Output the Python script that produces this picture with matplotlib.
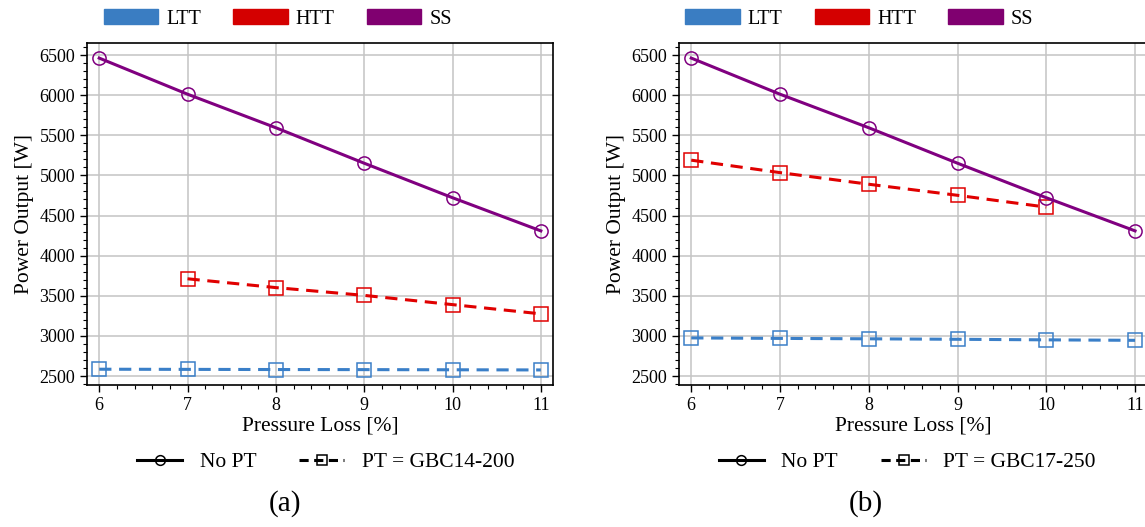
import matplotlib
matplotlib.use('Agg')
import matplotlib.pyplot as plt
import matplotlib.patches as mpatches
from matplotlib.lines import Line2D
from matplotlib.ticker import MultipleLocator

plt.rcParams['font.family'] = ['Liberation Serif', 'DejaVu Serif']
plt.rcParams['mathtext.fontset'] = 'stix'

# ── 数据 ──────────────────────────────────────────────────────────────────
pressure_loss = [6, 7, 8, 9, 10, 11]
ss_power = [6462, 6012, 5594, 5152, 4722, 4309]

# (a) PT = GBC14-200
htt_x_a = [7, 8, 9, 10, 11]
htt_power_a = [3712, 3602, 3505, 3390, 3275]
ltt_power_a = [2585, 2583, 2581, 2580, 2578, 2576]

# (b) PT = GBC17-250
htt_x_b = [6, 7, 8, 9, 10]
htt_power_b = [5190, 5035, 4890, 4752, 4605]
ltt_power_b = [2975, 2969, 2964, 2958, 2951, 2945]

panel_names = ['(a)', '(b)']
pt_labels = ['PT = GBC14-200', 'PT = GBC17-250']

# ── 样式 ──────────────────────────────────────────────────────────────────
C_LTT = '#3a7fc8'
C_HTT = '#e00000'
C_SS = '#800080'
P_LTT = '#3a7dc2'
P_HTT = '#d40000'
P_SS = '#800070'

fig = plt.figure(figsize=(11.45, 5.27), dpi=100)
ax_a = fig.add_axes([0.076, 0.2694, 0.407, 0.649])
ax_b = fig.add_axes([0.593, 0.2694, 0.409, 0.649])

panels = [
    (ax_a, htt_x_a, htt_power_a, ltt_power_a),
    (ax_b, htt_x_b, htt_power_b, ltt_power_b),
]

for ax, hx, hy, ly in panels:
    ax.plot(pressure_loss, ly, color=C_LTT, lw=2.2, ls=(0, (4, 2.5)),
            marker='s', ms=9.5, mfc='none', mec=C_LTT, mew=1.1, zorder=3)
    ax.plot(hx, hy, color=C_HTT, lw=2.2, ls=(0, (4, 2.5)),
            marker='s', ms=9.5, mfc='none', mec=C_HTT, mew=1.1, zorder=3)
    ax.plot(pressure_loss, ss_power, color=C_SS, lw=2.2, ls='-',
            marker='o', ms=9.5, mfc='none', mec=C_SS, mew=1.1, zorder=4)

    ax.set_xlim(5.862, 11.138)
    ax.set_ylim(2388, 6650)
    ax.set_xticks(pressure_loss)
    ax.set_yticks(range(2500, 6501, 500))
    ax.xaxis.set_minor_locator(MultipleLocator(0.2))
    ax.yaxis.set_minor_locator(MultipleLocator(100))
    ax.tick_params(which='major', labelsize=13, length=5, width=1)
    ax.tick_params(which='minor', length=3, width=0.8)
    ax.grid(True, which='major', color='#c4c4c4', lw=1.1)
    ax.set_axisbelow(True)
    for s in ax.spines.values():
        s.set_linewidth(1.2)
    ax.set_xlabel('Pressure Loss [%]', fontsize=15.5, labelpad=2)
    ax.set_ylabel('Power Output [W]', fontsize=15.5, labelpad=4)

# 顶部颜色图例 + 底部线型图例 + 子图编号
centers = [0.2425, 0.7505]
for cx, pt, name in zip(centers, pt_labels, panel_names):
    patches = [mpatches.Patch(color=P_LTT, label='LTT'),
               mpatches.Patch(color=P_HTT, label='HTT'),
               mpatches.Patch(color=P_SS, label='SS')]
    fig.legend(handles=patches, loc='center', bbox_to_anchor=(cx, 0.964),
               ncol=3, frameon=False, fontsize=14.5, handlelength=2.7,
               handleheight=0.7, handletextpad=0.4, columnspacing=1.6)

    lines = [Line2D([0], [0], color='black', lw=2.2, marker='o', ms=7,
                    mfc='none', mew=1.1, label='No PT'),
             Line2D([0], [0], color='black', lw=2.2, ls=(0, (3, 1.8)),
                    marker='s', ms=7, mfc='none', mew=1.1, label=pt)]
    fig.legend(handles=lines, loc='center', bbox_to_anchor=(cx + 0.042, 0.123),
               ncol=2, frameon=False, fontsize=15.5, handlelength=2.1,
               handletextpad=0.8, columnspacing=2.0)

    fig.text(cx + 0.006, 0.045, name, ha='center', va='center', fontsize=21)

fig.savefig('out.png', dpi=100)
